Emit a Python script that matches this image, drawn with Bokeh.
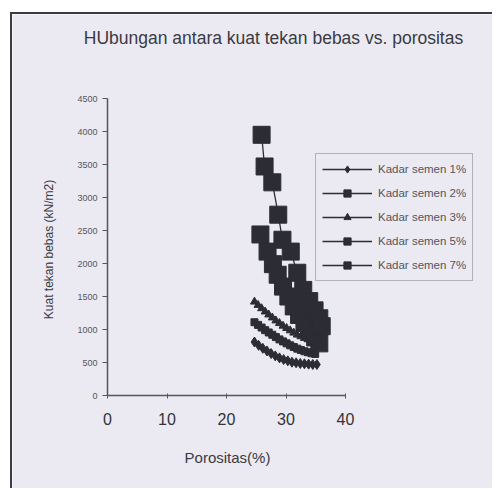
import math
from bokeh.plotting import figure
from bokeh.models import Range1d, FixedTicker, Legend, LegendItem, Label
from bokeh.embed import file_html
from bokeh.resources import INLINE

# ---- data ----
series_names = ["Kadar semen 1%", "Kadar semen 2%", "Kadar semen 3%", "Kadar semen 5%", "Kadar semen 7%"]

por_1 = [24.7, 25.4, 26.1, 26.8, 27.5, 28.2, 28.9, 29.6, 30.3, 31.0, 31.7, 32.4, 33.1, 33.8, 34.5, 35.2]
kt_1 = [810, 760, 715, 675, 635, 600, 570, 545, 525, 505, 495, 485, 480, 475, 470, 470]

por_2 = [24.7, 25.3, 25.9, 26.5, 27.1, 27.7, 28.3, 28.9, 29.5, 30.1, 30.7, 31.3, 31.9, 32.5, 33.1, 33.7, 34.3, 34.9]
kt_2 = [1110, 1070, 1030, 990, 955, 920, 885, 850, 820, 790, 760, 735, 710, 690, 670, 655, 640, 630]

por_3 = [24.7, 25.3, 25.9, 26.5, 27.1, 27.7, 28.3, 28.9, 29.5, 30.1, 30.7, 31.3, 31.9, 32.5, 33.1, 33.7]
kt_3 = [1420, 1370, 1320, 1270, 1225, 1180, 1135, 1095, 1055, 1020, 985, 950, 920, 895, 870, 850]

por_5 = [25.7, 26.9, 27.8, 28.6, 29.5, 30.4, 31.3, 32.2, 33.1, 34.0, 34.9, 35.6]
kt_5 = [2440, 2180, 1990, 1830, 1650, 1500, 1350, 1220, 1100, 990, 880, 790]

por_7 = [25.9, 26.4, 27.7, 28.7, 29.4, 30.8, 31.9, 32.9, 33.9, 34.8, 35.6, 36.0]
kt_7 = [3950, 3470, 3230, 2740, 2360, 2180, 1860, 1600, 1430, 1290, 1170, 1050]

x_ticks = [0, 10, 20, 30, 40]
y_ticks = [0, 500, 1000, 1500, 2000, 2500, 3000, 3500, 4000, 4500]

title_text = "HUbungan antara kuat tekan bebas vs. porositas"
x_label = "Porositas(%)"
y_label = "Kuat tekan bebas (kN/m2)"

BG = "#ebeaf2"
INK = "#2c2c34"
FONT = "Liberation Sans"

# canvas = frame; axes are pinned at x=0 / y=0 with fixed_location
CW, CH = 480, 474
X0_PX, Y0_PX = 95, 381          # where data (0, 0) sits, from canvas left / top
XPX = 238 / 40                  # px per porosity unit
YPX = 297 / 4500                # px per kN/m2
p = figure(frame_width=CW, frame_height=CH,
           min_border_left=0, min_border_right=0, min_border_top=0, min_border_bottom=0,
           x_range=Range1d(-X0_PX / XPX, (CW - X0_PX) / XPX),
           y_range=Range1d(-(CH - Y0_PX) / YPX, Y0_PX / YPX),
           output_backend="svg", toolbar_location=None,
           background_fill_color=BG, border_fill_color=BG)
p.margin = (12, 0, 0, 10)
p.styles = {"border-left": "2px solid #3c3c44", "border-top": "2px solid #3c3c44"}
p.outline_line_color = None
p.grid.visible = False

# axes
p.xaxis.ticker = FixedTicker(ticks=x_ticks)
p.yaxis.ticker = FixedTicker(ticks=y_ticks)
p.xaxis.bounds = (0, 40)
p.yaxis.bounds = (0, 4500)
p.xaxis.fixed_location = 0
p.yaxis.fixed_location = 0
for ax in (p.xaxis[0], p.yaxis[0]):
    ax.axis_line_color = "#555560"
    ax.axis_line_width = 1.5
    ax.major_tick_line_color = "#555560"
    ax.minor_tick_line_color = None
    ax.major_label_text_font = FONT

p.xaxis.major_tick_in = 2
p.xaxis.major_tick_out = 3
p.xaxis.major_label_text_font_size = "16px"
p.xaxis.major_label_text_color = "#333338"
p.xaxis.major_label_standoff = 14

p.yaxis.major_tick_in = 0
p.yaxis.major_tick_out = 5
p.yaxis.major_label_text_font_size = "9px"
p.yaxis.major_label_text_color = "#55555d"
p.yaxis.major_label_standoff = 5

# series
specs = [
    (por_1, kt_1, "diamond", 10),
    (por_2, kt_2, "square", 7),
    (por_3, kt_3, "triangle", 8),
    (por_5, kt_5, "square", 17),
    (por_7, kt_7, "square", 17),
]
items = []
for name, (xs, ys, mk, sz) in zip(series_names, specs):
    ln = p.line(xs, ys, line_color=INK, line_width=1.3)
    sc = p.scatter(xs, ys, marker=mk, size=sz, fill_color=INK, line_color=INK)
    items.append(LegendItem(label=name, renderers=[ln, sc]))

legend = Legend(items=items, location=(303, 207))
legend.label_text_font = FONT
legend.label_text_font_size = "11.5px"
legend.label_text_color = "#55555d"
legend.border_line_color = "#77777f"
legend.border_line_width = 1
legend.background_fill_color = BG
legend.background_fill_alpha = 1
legend.glyph_width = 50
legend.glyph_height = 18
legend.spacing = 6
legend.padding = 6
legend.margin = 0
legend.label_standoff = 6
p.add_layout(legend)

# title and axis titles (screen units, from the canvas bottom-left)
p.add_layout(Label(x=261, y=CH - 23, x_units="screen", y_units="screen", text=title_text,
                   text_font=FONT, text_font_size="17.5px", text_color="#3a3a42",
                   text_align="center", text_baseline="middle"))
p.add_layout(Label(x=215, y=CH - 443, x_units="screen", y_units="screen", text=x_label,
                   text_font=FONT, text_font_size="15px", text_color="#3a3a42",
                   text_align="center", text_baseline="middle"))
p.add_layout(Label(x=36, y=CH - 235, x_units="screen", y_units="screen", text=y_label,
                   angle=math.pi / 2,
                   text_font=FONT, text_font_size="12px", text_color="#3a3a42",
                   text_align="center", text_baseline="middle"))

open("out.html", "w").write(file_html(p, INLINE))
